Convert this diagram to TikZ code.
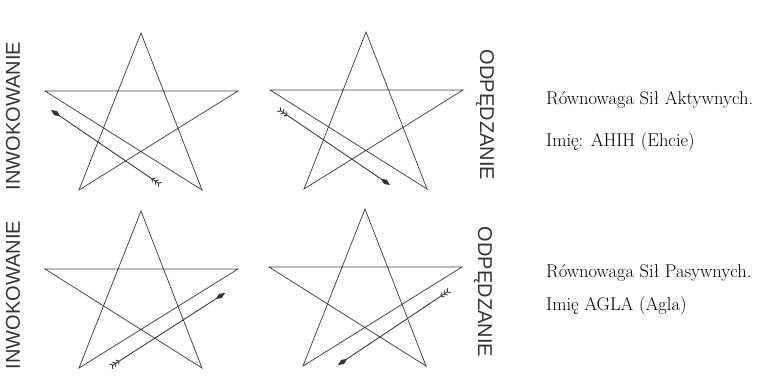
\documentclass[tikz,border=0pt]{standalone}
\usepackage{fontspec}
\usetikzlibrary{arrows.meta}
\newfontfamily\sidefont{Liberation Sans}

\begin{document}
\begin{tikzpicture}[x=1pt,y=-1pt,
  star/.style={line width=.75pt,black!75,line join=miter},
  feather/.tip={Straight Barb[reversed,length=2.2pt,width=5.5pt,sep=.6pt]},
  shaft/.style={line width=.85pt,black!80,
    {feather[]feather[]feather[]}-{Kite[length=11pt,width=5pt,inset=5.5pt]}},
  side/.style={font=\sidefont\fontsize{20}{20}\selectfont,black!80,inner sep=0pt},
  note/.style={font=\fontsize{18.5}{18.5}\selectfont,anchor=base west,inner sep=0pt}]
\useasboundingbox (0,0) rectangle (767,383);
% the four pentagrams
\foreach \sx/\sy/\nm in {141/33/a,366/32/b,141/211/c,365/209/d}{
  \begin{scope}[shift={(\sx,\sy)}]
    \coordinate (\nm-top) at (0,0);   \coordinate (\nm-left) at (-96,58);
    \coordinate (\nm-right) at (97,58);
    \coordinate (\nm-bl) at (-62,157); \coordinate (\nm-br) at (61,157);
    \draw[star] (\nm-top)--(\nm-bl)--(\nm-right)--(\nm-left)--(\nm-br)--cycle;
  \end{scope}
}
% arrows
\coordinate (a-tail) at (161,185); \coordinate (a-head) at (51,110);
\coordinate (b-tail) at (278,109); \coordinate (b-head) at (390,185);
\coordinate (c-tail) at (110,367); \coordinate (c-head) at (225,293);
\coordinate (d-tail) at (450,290); \coordinate (d-head) at (338,365);
\foreach \nm in {a,b,c,d}
  \draw[shaft] (\nm-tail) -- (\nm-head);
% side words
\node[side,rotate=90] (inw1) at (13,116) {INWOKOWANIE};
\node[side,rotate=-90] (odp1) at (485,115) {ODPĘDZANIE};
\node[side,rotate=90] (inw2) at (13,295) {INWOKOWANIE};
\node[side,rotate=-90] (odp2) at (483,292) {ODPĘDZANIE};
% notes
\node[note] (act) at (546,104) {Równowaga Sił Aktywnych.};
\node[note] (actname) at (546,146) {Imię: AHIH (Ehcie)};
\node[note] (pas) at (546,277.5) {Równowaga Sił Pasywnych.};
\node[note] (pasname) at (546,310) {Imię AGLA (Agla)};
\end{tikzpicture}
\end{document}
